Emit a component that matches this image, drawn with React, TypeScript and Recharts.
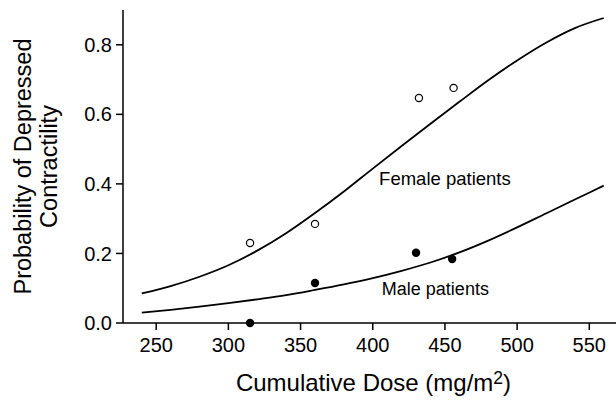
import { ComposedChart, Line, Scatter, XAxis, YAxis, ReferenceDot } from 'recharts';

const FONT = '"Liberation Sans", Arial, Helvetica, sans-serif';

const doseTicks = [250, 300, 350, 400, 450, 500, 550];
const probTicks = [0, 0.2, 0.4, 0.6, 0.8];

// fitted curves, every 20 mg/m2
const curveDose = [240, 260, 280, 300, 320, 340, 360, 380, 400, 420, 440, 460, 480, 500, 520, 540, 560];
const femaleCurve = [0.085, 0.106, 0.133, 0.166, 0.208, 0.258, 0.316, 0.378, 0.444, 0.509, 0.573, 0.636, 0.698, 0.755, 0.806, 0.848, 0.877];
const maleCurve = [0.03, 0.038, 0.047, 0.057, 0.068, 0.08, 0.095, 0.111, 0.129, 0.15, 0.174, 0.203, 0.237, 0.275, 0.315, 0.355, 0.395];

// observed proportions
const femaleDose = [315, 360, 432, 456];
const femaleObserved = [0.23, 0.285, 0.647, 0.676];
const maleDose = [315, 360, 430, 455];
const maleObserved = [0, 0.115, 0.202, 0.184];

const femaleLine = curveDose.map((dose, i) => ({ dose, p: femaleCurve[i] }));
const maleLine = curveDose.map((dose, i) => ({ dose, p: maleCurve[i] }));
const femalePts = femaleDose.map((dose, i) => ({ dose, p: femaleObserved[i] }));
const malePts = maleDose.map((dose, i) => ({ dose, p: maleObserved[i] }));

function DoseTitle({ viewBox }: any) {
  const { x, y, width } = viewBox;
  return (
    <text x={x + width / 2 + 4} y={y + 68} textAnchor="middle" fontSize={24} fill="#000" fontFamily={FONT}>
      Cumulative Dose (mg/m
      <tspan dy={-7} fontSize={17.5}>2</tspan>
      <tspan dy={7}>)</tspan>
    </text>
  );
}

function ProbTitle({ viewBox }: any) {
  const { x, y, height } = viewBox;
  const cy = y + height / 2;
  return (
    <g fontSize={23.5} fill="#000" fontFamily={FONT} textAnchor="middle">
      <text transform={`translate(${x + 31}, ${cy}) rotate(-90)`}>Probability of Depressed</text>
      <text transform={`translate(${x + 57}, ${cy}) rotate(-90)`}>Contractility</text>
    </g>
  );
}

const openDot = (p: any) => <circle cx={p.cx} cy={p.cy} r={3.6} fill="#fff" stroke="#000" strokeWidth={1.2} />;
const filledDot = (p: any) => <circle cx={p.cx} cy={p.cy} r={4.2} fill="#000" />;

const tickStyle = { fontSize: 20, fill: '#000', fontFamily: FONT };

export default function App() {
  return (
    <div style={{ position: 'absolute', left: 0, top: 0, background: '#fff' }}>
      <ComposedChart width={616} height={401} margin={{ top: 10, right: 0, bottom: 0, left: 0 }}>
        <XAxis
          type="number"
          dataKey="dose"
          domain={[227, 568.5]}
          ticks={doseTicks}
          height={78}
          tickSize={7}
          tickMargin={8}
          tick={tickStyle}
          axisLine={{ stroke: '#000', strokeWidth: 1.5 }}
          tickLine={{ stroke: '#000', strokeWidth: 1.5 }}
          allowDataOverflow
          label={(props: any) => <DoseTitle {...props} />}
        />
        <YAxis
          type="number"
          dataKey="p"
          domain={[0, 0.9]}
          ticks={probTicks}
          width={123}
          tickSize={7}
          tickMargin={4}
          tick={tickStyle}
          tickFormatter={(v: number) => v.toFixed(1)}
          axisLine={{ stroke: '#000', strokeWidth: 1.5 }}
          tickLine={{ stroke: '#000', strokeWidth: 1.5 }}
          label={(props: any) => <ProbTitle {...props} />}
        />
        <Line data={femaleLine} dataKey="p" type="monotone" stroke="#000" strokeWidth={1.8} dot={false} isAnimationActive={false} />
        <Line data={maleLine} dataKey="p" type="monotone" stroke="#000" strokeWidth={1.8} dot={false} isAnimationActive={false} />
        <Scatter data={femalePts} dataKey="p" shape={openDot} isAnimationActive={false} />
        <Scatter data={malePts} dataKey="p" shape={filledDot} isAnimationActive={false} />
        <ReferenceDot
          x={404.4}
          y={0.4155}
          r={0}
          fill="none"
          stroke="none"
          label={{ value: 'Female patients', position: 'right', offset: 0, fontSize: 18.5, fill: '#000', fontFamily: FONT }}
        />
        <ReferenceDot
          x={406.3}
          y={0.0986}
          r={0}
          fill="none"
          stroke="none"
          label={{ value: 'Male patients', position: 'right', offset: 0, fontSize: 18, fill: '#000', fontFamily: FONT }}
        />
      </ComposedChart>
    </div>
  );
}
